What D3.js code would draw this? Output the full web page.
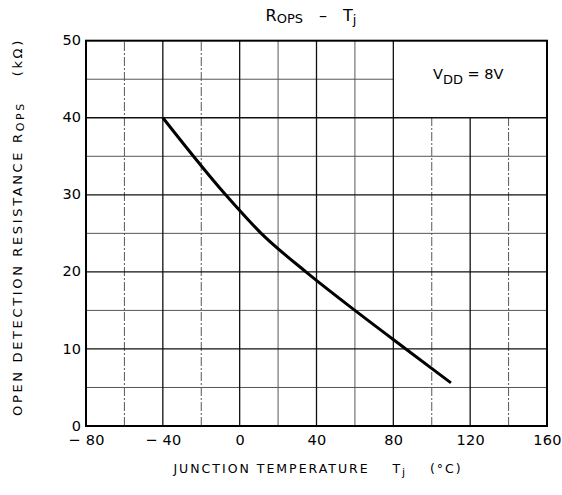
<!DOCTYPE html>
<html>
<head>
<meta charset="utf-8">
<script src="https://cdn.jsdelivr.net/npm/d3@7"></script>
<style>
  html, body { margin: 0; padding: 0; background: #fff; }
  svg { display: block; font-family: "DejaVu Sans", "Open Sans", sans-serif; }
</style>
</head>
<body>
<svg id="chart" width="562" height="495"></svg>
<script>
// Junction temperature (°C) vs open detection resistance (kΩ), VDD = 8 V
const tempC = [-40, -7.3, 11.2, 34.5, 60, 86.5, 110];
const ropsKOhm = [40, 30, 25, 20, 15, 10, 5.6];

const xTicks = [-80, -40, 0, 40, 80, 120, 160];
const xTickLabels = ["\u2212 80", "\u2212 40", "0", "40", "80", "120", "160"];
const yTicks = [0, 10, 20, 30, 40, 50];
const xMinor = [-60, -20, 20, 60, 100, 140];
const yMinor = [5, 15, 25, 35, 45];

const svg = d3.select("#chart");
const plotLeft = 86, plotRight = 547, plotTop = 40.7, plotBottom = 426;

const x = d3.scaleLinear().domain([-80, 160]).range([plotLeft, plotRight]);
const y = d3.scaleLinear().domain([0, 50]).range([plotBottom, plotTop]);

// Condition box in the upper right corner (no grid inside it)
const boxX0 = 80, boxY0 = 40;

const grid = svg.append("g");

// grid lines crossing the condition box stop at its edges
function vExtent(t) {
  return t > boxX0 && t < 160 ? [0, boxY0] : [0, 50];
}
function hExtent(v) {
  return v > boxY0 && v < 50 ? [-80, boxX0] : [-80, 160];
}

const dashedMinor = new Set([-60, -20, 100, 140]);
xMinor.forEach(t => {
  const [a, b] = vExtent(t);
  grid.append("line")
    .attr("x1", x(t)).attr("x2", x(t))
    .attr("y1", y(a)).attr("y2", y(b))
    .attr("stroke", "#444").attr("stroke-width", 0.9)
    .attr("stroke-dasharray", dashedMinor.has(t) ? "9,2,2,2" : null);
});
yMinor.forEach(v => {
  const [a, b] = hExtent(v);
  grid.append("line")
    .attr("x1", x(a)).attr("x2", x(b))
    .attr("y1", y(v)).attr("y2", y(v))
    .attr("stroke", "#555").attr("stroke-width", 1);
});
xTicks.slice(1, -1).forEach(t => {
  const [a, b] = vExtent(t);
  grid.append("line")
    .attr("x1", x(t)).attr("x2", x(t))
    .attr("y1", y(a)).attr("y2", y(b))
    .attr("stroke", "#111").attr("stroke-width", 1.3);
});
yTicks.slice(1, -1).forEach(v => {
  const [a, b] = hExtent(v);
  grid.append("line")
    .attr("x1", x(a)).attr("x2", x(b))
    .attr("y1", y(v)).attr("y2", y(v))
    .attr("stroke", "#111").attr("stroke-width", 1.3);
});

// frame
svg.append("rect")
  .attr("x", plotLeft).attr("y", plotTop)
  .attr("width", plotRight - plotLeft).attr("height", plotBottom - plotTop)
  .attr("fill", "none").attr("stroke", "#000").attr("stroke-width", 2);

// axes (labels only, the frame and grid carry the lines)
const tickFont = "'DejaVu Sans', sans-serif";
const xAxis = d3.axisBottom(x).tickValues(xTicks)
  .tickFormat((d, i) => xTickLabels[i]).tickSize(0).tickPadding(9);
const gx = svg.append("g").attr("transform", `translate(0,${plotBottom})`).call(xAxis);
gx.select(".domain").remove();
gx.selectAll("text").attr("font-size", 14.5).attr("fill", "#000")
  .attr("font-family", tickFont).attr("letter-spacing", 0.3);

const yAxis = d3.axisLeft(y).tickValues(yTicks).tickSize(0).tickPadding(5);
const gy = svg.append("g").attr("transform", `translate(${plotLeft},0)`).call(yAxis);
gy.select(".domain").remove();
gy.selectAll("text").attr("font-size", 14.5).attr("fill", "#000")
  .attr("font-family", tickFont).attr("dy", "0.28em");

// curve
const line = d3.line()
  .x(d => x(d[0])).y(d => y(d[1]))
  .curve(d3.curveMonotoneX);
svg.append("path")
  .datum(d3.zip(tempC, ropsKOhm))
  .attr("d", line)
  .attr("fill", "none").attr("stroke", "#000")
  .attr("stroke-width", 3).attr("stroke-linecap", "butt");

// title
const title = svg.append("text").attr("x", 311).attr("y", 21)
  .attr("text-anchor", "middle").attr("fill", "#000");
title.append("tspan").attr("font-size", 16).text("R");
title.append("tspan").attr("font-size", 13).attr("dy", 2).text("OPS");
title.append("tspan").attr("font-size", 16).attr("dy", -2).text("\u2003\u2013\u2003T");
title.append("tspan").attr("font-size", 13).attr("dy", 3).text("j");

// condition label
const cond = svg.append("text").attr("x", 433).attr("y", 79).attr("fill", "#000");
cond.append("tspan").attr("font-size", 14.5).text("V");
cond.append("tspan").attr("font-size", 13).attr("dy", 5).text("DD");
cond.append("tspan").attr("font-size", 14.5).attr("dy", -5).text(" = 8V");

// x-axis title
const xt = svg.append("text").attr("x", 318).attr("y", 473)
  .attr("text-anchor", "middle").attr("fill", "#000")
  .attr("font-size", 12.5).attr("letter-spacing", 2);
xt.append("tspan").text("JUNCTION TEMPERATURE\u2003\u2002T");
xt.append("tspan").attr("font-size", 11).attr("dy", 3).text("j");
xt.append("tspan").attr("dy", -3).text("\u2003\u2002(°C)");

// y-axis title
const yt = svg.append("text")
  .attr("transform", "translate(22,227) rotate(-90)")
  .attr("text-anchor", "middle").attr("fill", "#000")
  .attr("font-size", 13).attr("letter-spacing", 2.65);
yt.append("tspan").text("OPEN DETECTION RESISTANCE R");
yt.append("tspan").attr("font-size", 11).attr("dy", 2).text("OPS");
yt.append("tspan").attr("dy", -2).text("\u2003\u2002(kΩ)");
</script>
</body>
</html>
